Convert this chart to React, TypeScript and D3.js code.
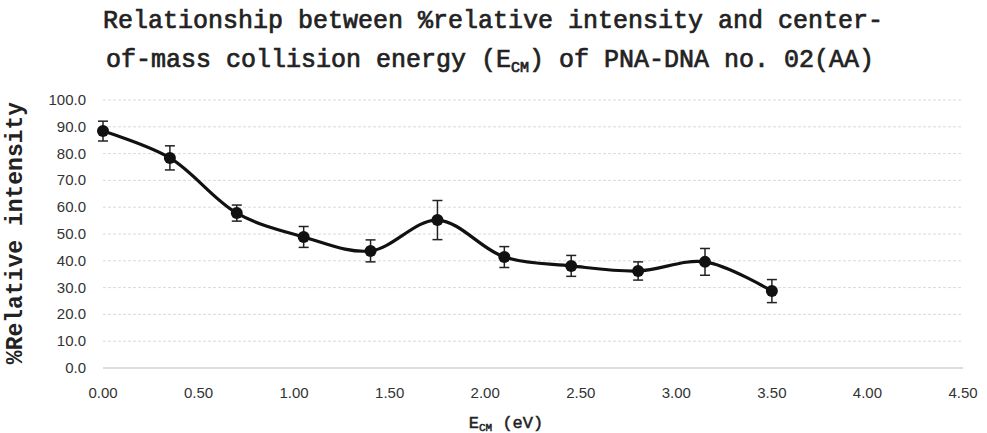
import React from "react";
import * as d3 from "d3";

const energies = [0, 0.35, 0.7, 1.05, 1.4, 1.75, 2.1, 2.45, 2.8, 3.15, 3.5];
const intensities = [88.4, 78.4, 57.8, 48.9, 43.7, 55.2, 41.4, 38.1, 36.2, 39.6, 28.7];
const errors = [3.7, 4.5, 3.0, 3.9, 4.1, 7.3, 3.9, 3.9, 3.4, 5.0, 4.3];
const xTicks = [0, 0.5, 1, 1.5, 2, 2.5, 3, 3.5, 4, 4.5];
const yTicks = [0, 10, 20, 30, 40, 50, 60, 70, 80, 90, 100];

const W = 987;
const H = 433;
const mono = "'Liberation Mono', 'DejaVu Sans Mono', monospace";
const sans = "'Liberation Sans', Arial, sans-serif";

export default function App() {
  const x = d3.scaleLinear().domain([0, 4.5]).range([103, 963]);
  const y = d3.scaleLinear().domain([0, 100]).range([368, 100]);
  const pts = energies.map((e, i) => [x(e), y(intensities[i])] as [number, number]);
  const line = d3.line().curve(d3.curveCatmullRom.alpha(0.5))(pts) || "";

  return (
    <svg width={W} height={H} style={{ position: "absolute", left: 0, top: 0, background: "#fff" }}>
      <rect x={0} y={0} width={W} height={H} fill="#fff" />
      {/* title */}
      <g fontFamily={mono} fontSize={25} fill="#222" stroke="#222" strokeWidth={0.7}>
        <text x={493} y={28} textAnchor="middle">
          Relationship between %relative intensity and center-
        </text>
        <text x={490} y={67} textAnchor="middle">
          of-mass collision energy (E<tspan fontSize={15} dy={5}>CM</tspan>
          <tspan dy={-5}>) of PNA-DNA no. 02(AA)</tspan>
        </text>
      </g>
      {/* gridlines */}
      {yTicks.map((t) => (
        <line
          key={"g" + t}
          x1={x(0)}
          x2={x(4.5)}
          y1={y(t)}
          y2={y(t)}
          stroke={t === 0 ? "#bbb" : "#dadada"}
          strokeWidth={1}
          strokeDasharray={t === 0 ? "none" : "3,2"}
        />
      ))}
      {/* y tick labels */}
      {yTicks.map((t) => (
        <text key={"yl" + t} x={86} y={y(t) + 5} textAnchor="end" fontFamily={sans} fontSize={15} fill="#333">
          {t.toFixed(1)}
        </text>
      ))}
      {/* x tick labels */}
      {xTicks.map((t) => (
        <text key={"xl" + t} x={x(t)} y={398} textAnchor="middle" fontFamily={sans} fontSize={15} fill="#333">
          {t.toFixed(2)}
        </text>
      ))}
      {/* y axis title */}
      <text
        transform={`translate(22,233) rotate(-90)`}
        textAnchor="middle"
        fontFamily={mono}
        fontWeight="bold"
        fontSize={23}
        fill="#222"
      >
        %Relative intensity
      </text>
      {/* x axis title */}
      <text x={506} y={428} textAnchor="middle" fontFamily={mono} fontSize={17} fill="#222" stroke="#222" strokeWidth={0.5}>
        E<tspan fontSize={11} dy={3}>CM</tspan>
        <tspan dy={-3}> (eV)</tspan>
      </text>
      {/* error bars */}
      {energies.map((e, i) => {
        const cx = x(e);
        const t = y(intensities[i] + errors[i]);
        const b = y(intensities[i] - errors[i]);
        return (
          <g key={"e" + i} stroke="#222" strokeWidth={1.5}>
            <line x1={cx} x2={cx} y1={t} y2={b} />
            <line x1={cx - 5} x2={cx + 5} y1={t} y2={t} />
            <line x1={cx - 5} x2={cx + 5} y1={b} y2={b} />
          </g>
        );
      })}
      {/* line */}
      <path d={line} fill="none" stroke="#111" strokeWidth={3.2} />
      {/* markers */}
      {pts.map((p, i) => (
        <circle key={"m" + i} cx={p[0]} cy={p[1]} r={6} fill="#111" />
      ))}
    </svg>
  );
}
